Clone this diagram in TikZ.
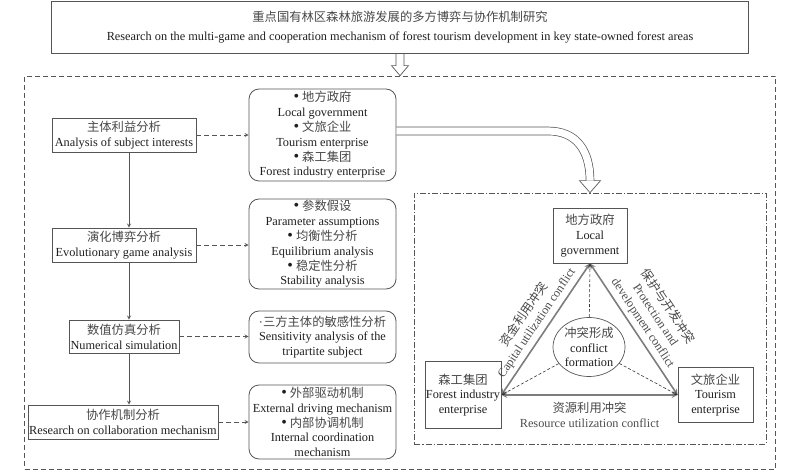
\documentclass[tikz,border=0pt]{standalone}
\usepackage{fontspec}
\setmainfont{Liberation Serif}
\newfontfamily\cjk{Noto Sans CJK SC}
\usetikzlibrary{shapes.geometric}
\definecolor{linegray}{RGB}{85,85,85}
\definecolor{trigray}{RGB}{125,125,125}
\newcommand{\zh}[1]{{\cjk\color{black!72}#1}}
\newcommand{\dotmark}{{\fontsize{16}{14.8}\selectfont\textbullet}}
\begin{document}
\begin{tikzpicture}[x=1pt,y=-1pt,
    every node/.style={font=\fontsize{12.3}{14.8}\selectfont, text=black!88, align=center, inner sep=0pt},
    box/.style={draw=linegray, line width=0.8pt},
    rbox/.style={draw=linegray, line width=0.8pt, rounded corners=10pt},
    frame/.style={draw=linegray, line width=0.7pt, dash pattern=on 5pt off 3pt},
    link/.style={draw=linegray, line width=0.8pt, ->, >=stealth},
    dlink/.style={draw=linegray, line width=0.8pt, dash pattern=on 5pt off 3pt, ->, >=stealth},
    tlink/.style={draw=black!80, line width=0.6pt, dash pattern=on 3pt off 2pt, ->, >=stealth},
    side/.style={draw=trigray, line width=1.6pt, <->, >=stealth},
    hollow/.style={draw=linegray, double=white, double distance=7.2pt, line width=0.7pt},
    headline/.style={draw=linegray, line width=0.7pt},
    edgetext/.style={text=black!70}]
  \useasboundingbox (0,0) rectangle (800,470);

  \node[box, minimum width=697pt, minimum height=52pt, font=\fontsize{12.3}{19.5}\selectfont] (title) at (400,27)
    {\zh{重点国有林区森林旅游发展的多方博弈与协作机制研究}\\Research on the multi-game and cooperation mechanism of forest tourism development in key state-owned forest areas};
  \node[frame, minimum width=751pt, minimum height=393pt] (outer) at (400,272.5) {};
  \draw[headline] ([xshift=-4pt]title.south) -- ([xshift=-4pt,yshift=10pt]outer.north) -- ++(-4.5,0) -- (outer.north)
    -- ([xshift=8.5pt,yshift=10pt]outer.north) -- ++(-4.5,0) -- ([xshift=4pt]title.south);

  \node[box, minimum width=144pt, minimum height=34pt] (subj) at (124,135) {\zh{主体利益分析}\\Analysis of subject interests};
  \node[box, minimum width=144pt, minimum height=34pt] (evo) at (124,245) {\zh{演化博弈分析}\\Evolutionary game analysis};
  \node[box, minimum width=110pt, minimum height=33pt] (numsim) at (124,336.5) {\zh{数值仿真分析}\\Numerical simulation};
  \node[box, minimum width=190pt, minimum height=34pt] (collab) at (123,422) {\zh{协作机制分析}\\Research on collaboration mechanism};
  \draw[link] ([xshift=5pt]subj.south) -- ([xshift=5pt]subj.south |- evo.north);
  \draw[link] ([xshift=5pt]evo.south) -- ([xshift=5pt]evo.south |- numsim.north);
  \draw[link] ([xshift=5pt]numsim.south) -- ([xshift=5pt]numsim.south |- collab.north);

  \node[rbox, minimum width=147pt, minimum height=92pt] (actors) at (322.5,135)
    {\dotmark\ \zh{地方政府}\\Local government\\\dotmark\ \zh{文旅企业}\\Tourism enterprise\\\dotmark\ \zh{森工集团}\\Forest industry enterprise};
  \node[rbox, minimum width=147pt, minimum height=90pt] (game) at (322.5,244)
    {\dotmark\ \zh{参数假设}\\Parameter assumptions\\\dotmark\ \zh{均衡性分析}\\Equilibrium analysis\\\dotmark\ \zh{稳定性分析}\\Stability analysis};
  \node[rbox, minimum width=147pt, minimum height=52pt] (sens) at (322.5,337)
    {·\zh{三方主体的敏感性分析}\\Sensitivity analysis of the\\tripartite subject};
  \node[rbox, minimum width=147pt, minimum height=74pt] (mech) at (322.5,422)
    {\dotmark\ \zh{外部驱动机制}\\External driving mechanism\\\dotmark\ \zh{内部协调机制}\\Internal coordination\\mechanism};
  \draw[dlink] (subj.east) -- (subj.east -| actors.west);
  \draw[dlink] (evo.east) -- (evo.east -| game.west);
  \draw[dlink] (numsim.east) -- (numsim.east -| sens.west);
  \draw[dlink] (collab.east) -- (collab.east -| mech.west);

  \node[frame, dash pattern=on 6pt off 2pt on 1.5pt off 2pt, minimum width=352pt, minimum height=251pt] (inner) at (590,318.5) {};
  \draw[hollow] ([yshift=4pt]actors.east) -- (548,131) .. controls (576,131) and (590,150) .. ([yshift=12pt]inner.north);
  \draw[headline] ([xshift=-3.9pt,yshift=12pt]inner.north) -- ++(-6.6,0) -- (inner.north) -- ([xshift=10.5pt,yshift=12pt]inner.north) -- ++(-6.6,0);

  \node[box, minimum width=74pt, minimum height=55pt] (gov) at (590,235.5) {\zh{地方政府}\\Local\\government};
  \node[box, minimum width=76pt, minimum height=67pt] (forest) at (463,395) {\zh{森工集团}\\Forest industry\\enterprise};
  \node[box, minimum width=75pt, minimum height=55pt] (tour) at (715.5,395) {\zh{文旅企业}\\Tourism\\enterprise};
  \node[ellipse, draw=linegray, line width=0.7pt, minimum width=72pt, minimum height=59pt] (conf) at (589,347) {\zh{冲突形成}\\conflict\\formation};

  \draw[side] (forest.east) -- node[sloped, above=4pt, edgetext] {\zh{资金利用冲突}\\Capital utilization conflict} (gov.south);
  \draw[side] (gov.south) -- node[sloped, above=4pt, edgetext] {\zh{保护与开发冲突}\\Protection and\\development conflict} (tour.west);
  \draw[side] (forest.east) -- node[below=6pt, edgetext] {\zh{资源利用冲突}\\Resource utilization conflict} (tour.west);
  \draw[tlink] (conf) -- (gov.south);
  \draw[tlink] (conf) -- (forest.east);
  \draw[tlink] (conf) -- (tour.west);
\end{tikzpicture}
\end{document}
